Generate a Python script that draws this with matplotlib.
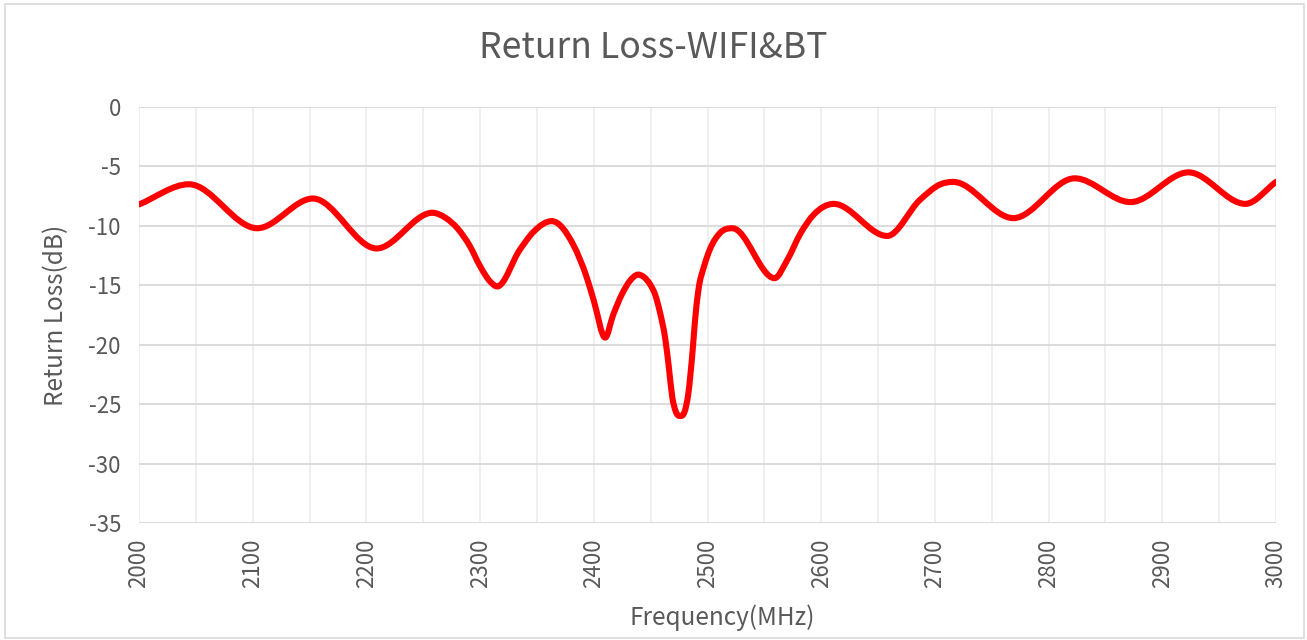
import matplotlib.pyplot as plt
import numpy as np
from matplotlib.path import Path
from matplotlib.patches import PathPatch, Rectangle

# Datos (frecuencia en MHz, perdida de retorno en dB)
freq = [2000, 2044, 2104, 2153, 2209, 2258, 2270, 2280, 2291, 2300,
        2309, 2315, 2335, 2347, 2363, 2382, 2394, 2400, 2410, 2417,
        2425, 2432, 2439, 2444, 2450, 2454, 2458, 2463, 2466, 2469,
        2472, 2476, 2480, 2483, 2487, 2489, 2492, 2497, 2502, 2511,
        2522, 2559, 2570, 2582, 2593, 2602, 2611, 2658, 2687, 2705,
        2716, 2769, 2823, 2872, 2923, 2973, 3000]
return_loss = [-8.2, -6.5, -10.2, -7.7, -11.9, -8.9, -9.35, -10.2, -11.7, -13.4,
               -14.7, -15.1, -12.0, -10.5, -9.6, -11.6, -14.4, -16.3, -19.4, -17.5,
               -15.7, -14.6, -14.1, -14.3, -15.0, -15.8, -17.2, -19.6, -21.9, -24.4,
               -25.6, -26.0, -25.6, -24.2, -20.4, -18.0, -15.4, -13.4, -12.0, -10.6,
               -10.2, -14.4, -12.9, -10.6, -9.1, -8.4, -8.15, -10.85, -7.8, -6.5,
               -6.3, -9.35, -6.0, -8.0, -5.5, -8.15, -6.3]

x_ticks = list(range(2000, 3001, 100))
y_ticks = list(range(-35, 1, 5))

TEXT = '#595959'
FONT = ['Noto Sans CJK SC', 'DejaVu Sans']

plt.rcParams['font.family'] = FONT
plt.rcParams['axes.unicode_minus'] = False


def curva_suave(xs, ys):
    # linea suavizada: segmentos Bezier, pendiente nula en los extremos
    x = np.asarray(xs, float)
    y = np.asarray(ys, float)
    h = np.diff(x)
    d = np.diff(y) / h
    m = np.zeros_like(y)
    m[0], m[-1] = d[0], d[-1]
    for k in range(1, len(x) - 1):
        if d[k - 1] * d[k] > 0:
            mk = (h[k] * d[k - 1] + h[k - 1] * d[k]) / (h[k - 1] + h[k])
            lim = 3 * min(abs(d[k - 1]), abs(d[k]))
            m[k] = np.sign(mk) * min(abs(mk), lim)
    verts = [(x[0], y[0])]
    codes = [Path.MOVETO]
    for k in range(len(x) - 1):
        t = h[k] / 3.0
        verts += [(x[k] + t, y[k] + t * m[k]),
                  (x[k + 1] - t, y[k + 1] - t * m[k + 1]),
                  (x[k + 1], y[k + 1])]
        codes += [Path.CURVE4] * 3
    return Path(verts, codes)


fig = plt.figure(figsize=(13.07, 6.4), dpi=100)
ax = fig.add_axes([139 / 1307, 1 - 523 / 640, (1276 - 139) / 1307, (523 - 107) / 640])

# Borde exterior del area del grafico
fig.patches.append(Rectangle((5 / 1307, 2 / 640), 1299 / 1307, 634 / 640,
                             transform=fig.transFigure, fill=False,
                             edgecolor='#d9d9d9', linewidth=1.2))

ax.add_patch(PathPatch(curva_suave(freq, return_loss), fill=False,
                       edgecolor='#ff0000', linewidth=4.4,
                       capstyle='round', joinstyle='round', zorder=3))

ax.set_xlim(2000, 3000)
ax.set_ylim(-35, 0)
ax.set_xticks(x_ticks)
ax.set_xticks(np.arange(2050, 3000, 100), minor=True)
ax.set_yticks(y_ticks)
ax.set_yticklabels([str(v) for v in y_ticks])

ax.grid(True, axis='y', which='major', color='#d9d9d9', linewidth=1.3, zorder=0)
ax.grid(True, axis='x', which='both', color='#ebebeb', linewidth=1.1, zorder=0)
for s in ax.spines.values():
    s.set_visible(False)

ax.tick_params(axis='both', which='both', length=0, labelcolor=TEXT, labelsize=16)
ax.tick_params(axis='y', pad=13)
ax.tick_params(axis='x', pad=11, labelrotation=90)

ax.set_xlabel('Frequency(MHz)', fontsize=17.5, color=TEXT)
ax.set_ylabel('Return Loss(dB)', fontsize=17.5, color=TEXT)
ax.xaxis.set_label_coords((722 - 139) / 1137, -(618 - 523) / 416)
ax.xaxis.label.set_va('center')
ax.yaxis.set_label_coords(-(139 - 56) / 1137, 0.5)
ax.yaxis.label.set_va('center')

fig.text(0.5, 1 - 48 / 640, 'Return Loss-WIFI&BT', ha='center', va='center',
         fontsize=25.6, color=TEXT)

fig.savefig('out.png', dpi=100)
